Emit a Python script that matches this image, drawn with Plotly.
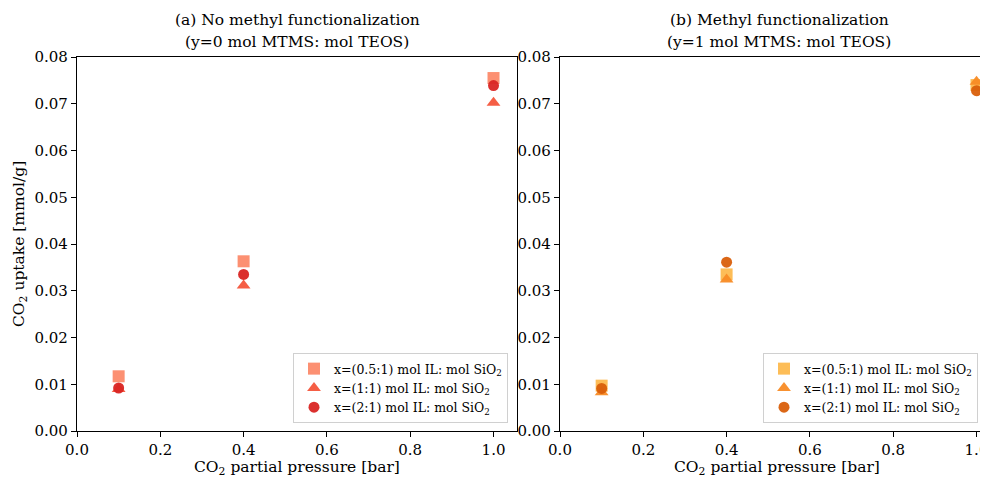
import plotly.graph_objects as go

pressure = [0.1, 0.4, 1.0]

# Panel (a): no methyl functionalization
a_05 = [0.0117, 0.0363, 0.0755]
a_1 = [0.0090, 0.0311, 0.0702]
a_2 = [0.0092, 0.0335, 0.0739]

# Panel (b): methyl functionalization
b_05 = [0.0097, 0.0335, 0.0740]
b_1 = [0.0083, 0.0324, 0.0747]
b_2 = [0.0091, 0.0361, 0.0728]

labels = [
    "x=(0.5:1) mol IL: mol SiO<sub>2</sub>",
    "x=(1:1) mol IL: mol SiO<sub>2</sub>",
    "x=(2:1) mol IL: mol SiO<sub>2</sub>",
]
symbols = ["square", "triangle-up", "circle"]
colors_a = ["#FC8A6A", "#F4553B", "#D92523"]
colors_b = ["#FDB94E", "#F88B25", "#D95F0B"]

FONT = "DejaVu Serif"

# the page body has an 8px margin, so the figure is shifted by 8px
OFF = 8
W, H = 988 - OFF, 478 - OFF
# reference pixel coordinates (page space)
L_ref, T_ref, B_ref = 77, 57, 431
L = L_ref - OFF
T = T_ref - OFF
B = (478 - B_ref)
R = 0
PW = W - L - R
PH = H - T - B


def px_x(p):
    return (p - OFF - L) / PW


def px_y(p):
    return (H - B - (p - OFF)) / PH


fig = go.Figure()
for vals, lab, sym, col in zip([a_05, a_1, a_2], labels, symbols, colors_a):
    fig.add_trace(go.Scatter(
        x=pressure, y=vals, mode="markers", name=lab,
        marker=dict(symbol=sym, size=12 if sym != "circle" else 11, color=col, opacity=0.95),
        xaxis="x", yaxis="y", legend="legend"))
for vals, lab, sym, col in zip([b_05, b_1, b_2], labels, symbols, colors_b):
    fig.add_trace(go.Scatter(
        x=pressure, y=vals, mode="markers", name=lab,
        marker=dict(symbol=sym, size=12 if sym != "circle" else 11, color=col, opacity=0.95),
        xaxis="x2", yaxis="y2", legend="legend2"))

ytick = dict(tickvals=[0, 0.01, 0.02, 0.03, 0.04, 0.05, 0.06, 0.07, 0.08],
             ticktext=["0.00", "0.01", "0.02", "0.03", "0.04", "0.05", "0.06", "0.07", "0.08"])
xtick = dict(tickvals=[0, 0.2, 0.4, 0.6, 0.8, 1.0],
             ticktext=["0.0", "0.2", "0.4", "0.6", "0.8", "1.0"])

common_axis = dict(showline=True, linecolor="black", linewidth=1.3, ticks="outside",
                   ticklen=5, tickcolor="black", showgrid=False, zeroline=False,
                   automargin=False, ticklabeloverflow="allow",
                   tickfont=dict(family=FONT, size=15, color="black"))

legend_common = dict(bgcolor="rgba(255,255,255,0.8)", bordercolor="#D0D0D0", borderwidth=1,
                     font=dict(family=FONT, size=12.5), tracegroupgap=0, itemwidth=30,
                     yanchor="bottom", y=px_y(423))

annotations = [
    dict(text="(a) No methyl functionalization", x=px_x(297), y=px_y(20)),
    dict(text="(y=0 mol MTMS: mol TEOS)", x=px_x(297), y=px_y(42)),
    dict(text="(b) Methyl functionalization", x=px_x(779), y=px_y(20)),
    dict(text="(y=1 mol MTMS: mol TEOS)", x=px_x(779), y=px_y(42)),
    dict(text="CO<sub>2</sub> partial pressure [bar]", x=px_x(297), y=px_y(468)),
    dict(text="CO<sub>2</sub> partial pressure [bar]", x=px_x(777), y=px_y(468)),
    dict(text="CO<sub>2</sub> uptake [mmol/g]", x=px_x(20), y=px_y(244), textangle=-90),
]
for a in annotations:
    a.update(xref="paper", yref="paper", xanchor="center", yanchor="middle",
             showarrow=False, font=dict(family=FONT, size=15.5, color="black"))

fig.update_layout(
    width=W, height=H,
    margin=dict(l=L, r=R, t=T, b=B),
    paper_bgcolor="white", plot_bgcolor="white",
    font=dict(family=FONT, color="black"),
    xaxis=dict(domain=[0, px_x(517)], range=[0, 1.0564], mirror=True, anchor="y",
               **xtick, **common_axis),
    yaxis=dict(domain=[0, 1], range=[0, 0.08], mirror=True, anchor="x",
               **ytick, **common_axis),
    xaxis2=dict(domain=[px_x(560), 1.0], range=[0, 1.0276], mirror=True, anchor="y2",
                **xtick, **common_axis),
    yaxis2=dict(domain=[0, 1], range=[0, 0.08], mirror=False, anchor="x2",
                **ytick, **common_axis),
    legend=dict(x=px_x(508), xanchor="right", **legend_common),
    legend2=dict(x=px_x(763), xanchor="left", **legend_common),
    annotations=annotations,
)

fig.write_html("out.html")
